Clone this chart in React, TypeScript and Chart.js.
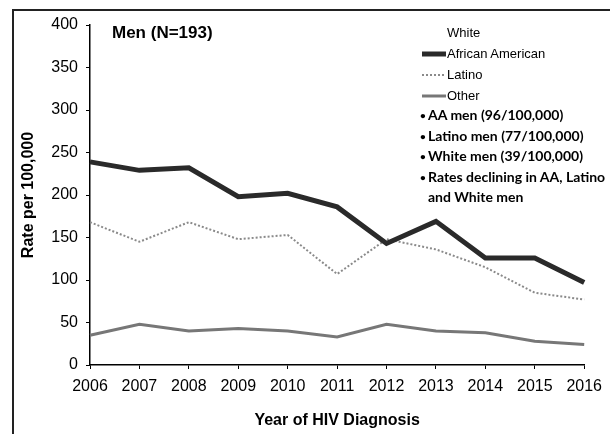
import React, { useEffect, useRef } from "react";
import { Chart, registerables } from "chart.js";

Chart.register(...registerables);

const years = ["2006", "2007", "2008", "2009", "2010", "2011", "2012", "2013", "2014", "2015", "2016"];
const africanAmerican = [239, 229, 232, 198, 202, 186, 143, 169, 126, 126, 97];
const latino = [168, 145, 168, 148, 153, 107, 148, 136, 115, 85, 77];
const other = [35, 48, 40, 43, 40, 33, 48, 40, 38, 28, 24];
const white: number[] = [];
const yTicks = [0, 50, 100, 150, 200, 250, 300, 350, 400];
const title = "Men (N=193)";
const bullets = [
  "AA men (96/100,000)",
  "Latino men (77/100,000)",
  "White men (39/100,000)",
  "Rates declining in AA, Latino and White men",
];

const legendItems = [
  { label: "White", color: "transparent", width: 0, dash: "" },
  { label: "African American", color: "#2a2a2a", width: 5, dash: "" },
  { label: "Latino", color: "#8a8a8a", width: 2, dash: "2,2" },
  { label: "Other", color: "#777", width: 3, dash: "" },
];

export default function App() {
  const ref = useRef<HTMLCanvasElement>(null);
  useEffect(() => {
    if (!ref.current) return;
    const chart = new Chart(ref.current, {
      type: "line",
      data: {
        labels: years,
        datasets: [
          { label: "White", data: white, borderColor: "rgba(255,255,255,0)", pointRadius: 0 },
          { label: "African American", data: africanAmerican, borderColor: "#2a2a2a", borderWidth: 5, pointRadius: 0, tension: 0 },
          { label: "Latino", data: latino, borderColor: "#8a8a8a", borderWidth: 2, borderDash: [2, 2], pointRadius: 0, tension: 0 },
          { label: "Other", data: other, borderColor: "#777", borderWidth: 3, pointRadius: 0, tension: 0 },
        ],
      },
      options: {
        animation: false,
        responsive: false,
        maintainAspectRatio: false,
        layout: { padding: { top: 25, right: 23, left: 0, bottom: 0 } },
        plugins: { legend: { display: false }, tooltip: { enabled: false } },
        scales: {
          x: {
            type: "category",
            offset: false,
            border: { color: "#000", width: 1.5 },
            grid: { display: true, drawOnChartArea: false, color: "#000", tickLength: 4 },
            ticks: { color: "#000", font: { family: "Liberation Sans", size: 16 }, maxRotation: 0, autoSkip: false, padding: 8 },
            title: { display: true, text: "Year of HIV Diagnosis", color: "#000", font: { family: "Liberation Sans", size: 16, weight: "bold" }, padding: { top: 12 } },
            afterFit: (s: any) => { s.height = 69; },
          },
          y: {
            min: 0,
            max: 400,
            afterBuildTicks: (s: any) => { s.ticks = yTicks.map((v) => ({ value: v })); },
            border: { color: "#000", width: 1.5 },
            grid: { display: true, drawOnChartArea: false, color: "#000", tickLength: 4 },
            ticks: { color: "#000", font: { family: "Liberation Sans", size: 16 }, padding: 8 },
            title: { display: true, text: "Rate per 100,000", color: "#000", font: { family: "Liberation Sans", size: 16, weight: "bold" }, padding: { top: 19, bottom: 0 } },
            afterFit: (s: any) => { s.width = 90; },
          },
        },
      },
    });
    return () => chart.destroy();
  }, []);

  return (
    <div style={{ position: "fixed", left: 0, top: 0, width: 610, height: 434, background: "#fff", overflow: "hidden" }}>
      <canvas ref={ref} width={610} height={434} style={{ position: "absolute", left: 0, top: 0 }} />
      <div style={{ position: "absolute", left: 13, top: 9, width: 610, height: 2, background: "#222" }} />
      <div style={{ position: "absolute", left: 12, top: 9, width: 2, height: 434, background: "#222" }} />
      <div style={{ position: "absolute", left: 112, top: 23, font: "bold 17px 'Liberation Sans'", color: "#000" }}>{title}</div>
      <div style={{ position: "absolute", left: 422, top: 22, font: "13px 'Liberation Sans'", color: "#000" }}>
        {legendItems.map((it, i) => (
          <div key={i} style={{ display: "flex", alignItems: "center", height: 21 }}>
            <svg width={24} height={10} style={{ marginRight: 1 }}>
              {it.width > 0 && (
                <line x1={0} y1={5} x2={24} y2={5} stroke={it.color} strokeWidth={it.width} strokeDasharray={it.dash || undefined} />
              )}
            </svg>
            <span>{it.label}</span>
          </div>
        ))}
      </div>
      <div style={{ position: "absolute", left: 420, top: 105, width: 190, font: "bold 14px Lato", color: "#000", lineHeight: "20.5px" }}>
        {bullets.map((b, i) => (
          <div key={i} style={{ display: "flex" }}>
            <span style={{ width: 8, flex: "none", fontSize: 10 }}>•</span>
            <span>{b}</span>
          </div>
        ))}
      </div>
    </div>
  );
}
